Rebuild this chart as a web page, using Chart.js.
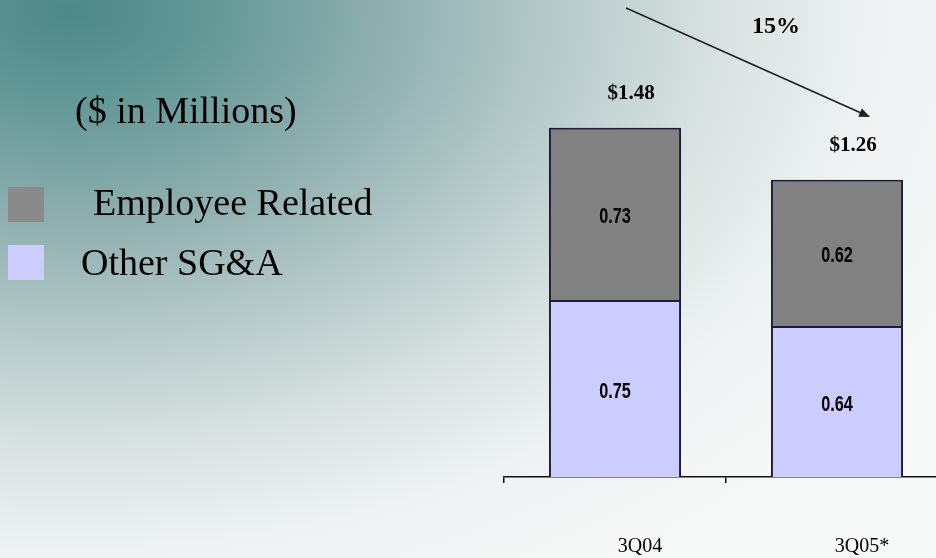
<!DOCTYPE html>
<html>
<head>
<meta charset="utf-8">
<script src="https://cdn.jsdelivr.net/npm/chart.js@4/dist/chart.umd.min.js"></script>
<style>
  html, body {
    margin: 0;
    padding: 0;
    width: 936px;
    height: 558px;
    overflow: hidden;
  }
  body {
    position: relative;
    background: radial-gradient(ellipse 980px 660px at 70px 10px,
      #4e8987 0%, #5e9594 12%, #8aacac 30%, #b3c7c7 48%, #d8e1e1 66%, #eef2f2 82%, #f7f8f8 100%);
    font-family: 'Liberation Serif', 'Times New Roman', serif;
  }
  #chart {
    position: absolute;
    left: 0;
    top: 0;
  }
  .txt {
    position: absolute;
    font-size: 38px;
    line-height: 1;
    color: #000;
    white-space: nowrap;
  }
  .swatch {
    position: absolute;
    width: 36px;
    height: 35px;
  }
</style>
</head>
<body>
<canvas id="chart" width="960" height="558"></canvas>
<div class="txt" style="left:75px; top:91px;">($ in Millions)</div>
<div id="legend"></div>
<script>
// SG&A by quarter, $ millions
const categories = ['3Q04', '3Q05*'];
const seriesNames = ['Other SG&A', 'Employee Related'];
const otherSGA = [0.75, 0.64];
const employeeRelated = [0.73, 0.62];
const changeLabel = '15%';

const BAR_COLORS = ['#ccccff', '#818181'];
const LEGEND_COLORS = ['#ccccff', '#8a8a8a'];

// legend on the left (Employee Related listed first)
const legendSpots = [
    { name: seriesNames[1], color: LEGEND_COLORS[1], swatchTop: 187, textTop: 183, textLeft: 93 },
    { name: seriesNames[0], color: LEGEND_COLORS[0], swatchTop: 245, textTop: 243, textLeft: 81 }
];
const legendEl = document.getElementById('legend');
legendSpots.forEach(item => {
    const sw = document.createElement('div');
    sw.className = 'swatch';
    sw.style.left = '8px';
    sw.style.top = item.swatchTop + 'px';
    sw.style.background = item.color;
    legendEl.appendChild(sw);

    const t = document.createElement('div');
    t.className = 'txt';
    t.style.left = item.textLeft + 'px';
    t.style.top = item.textTop + 'px';
    t.textContent = item.name;
    legendEl.appendChild(t);
});

const labelsPlugin = {
    id: 'barLabels',
    afterDatasetsDraw(chart) {
        const ctx = chart.ctx;
        const xs = chart.scales.x;
        const ys = chart.scales.y;
        ctx.save();
        ctx.fillStyle = '#000';
        ctx.textAlign = 'center';
        ctx.textBaseline = 'middle';

        // segment values, narrow bold
        ctx.font = "bold 22px 'Liberation Sans', Arial, sans-serif";
        chart.data.datasets.forEach((ds, di) => {
            const meta = chart.getDatasetMeta(di);
            meta.data.forEach((el, i) => {
                ctx.save();
                ctx.translate(el.x, (el.y + el.base) / 2 + 3);
                ctx.scale(0.74, 1);
                ctx.fillText(ds.data[i].toFixed(2), 0, 0);
                ctx.restore();
            });
        });

        // totals above the bars
        ctx.font = "bold 21px 'Liberation Serif', serif";
        const topMeta = chart.getDatasetMeta(chart.data.datasets.length - 1);
        topMeta.data.forEach((el, i) => {
            const total = otherSGA[i] + employeeRelated[i];
            ctx.fillText('$' + total.toFixed(2), el.x + 16, el.y - 34);
        });

        // arrow showing the decline
        const x1 = xs.getPixelForValue(0.05), y1 = ys.getPixelForValue(1.987);
        const x2 = xs.getPixelForValue(1.149), y2 = ys.getPixelForValue(1.525);
        const ang = Math.atan2(y2 - y1, x2 - x1);
        ctx.strokeStyle = '#1e1e1e';
        ctx.lineWidth = 1.6;
        ctx.beginPath();
        ctx.moveTo(x1, y1);
        ctx.lineTo(x2 - 8 * Math.cos(ang), y2 - 8 * Math.sin(ang));
        ctx.stroke();
        ctx.fillStyle = '#1e1e1e';
        ctx.beginPath();
        ctx.moveTo(x2, y2);
        ctx.lineTo(x2 - 11 * Math.cos(ang) + 4.5 * Math.sin(ang), y2 - 11 * Math.sin(ang) - 4.5 * Math.cos(ang));
        ctx.lineTo(x2 - 11 * Math.cos(ang) - 4.5 * Math.sin(ang), y2 - 11 * Math.sin(ang) + 4.5 * Math.cos(ang));
        ctx.closePath();
        ctx.fill();

        ctx.fillStyle = '#000';
        ctx.font = "bold 24px 'Liberation Serif', serif";
        ctx.fillText(changeLabel, xs.getPixelForValue(0.725), ys.getPixelForValue(1.907));
        ctx.restore();
    }
};

new Chart(document.getElementById('chart'), {
    type: 'bar',
    data: {
        labels: categories,
        datasets: [
            {
                label: seriesNames[0],
                data: otherSGA,
                backgroundColor: BAR_COLORS[0],
                borderColor: '#1c1c36',
                borderWidth: 2
            },
            {
                label: seriesNames[1],
                data: employeeRelated,
                backgroundColor: BAR_COLORS[1],
                borderColor: '#1c1c36',
                borderWidth: 2
            }
        ]
    },
    options: {
        responsive: false,
        animation: false,
        datasets: {
            bar: {
                categoryPercentage: 1,
                barPercentage: 0.595
            }
        },
        layout: {
            padding: { left: 504, right: 12, top: 5, bottom: 0 }
        },
        plugins: {
            legend: { display: false },
            tooltip: { enabled: false }
        },
        scales: {
            x: {
                stacked: true,
                afterFit: function(scale) {
                    scale.height = 81;
                },
                grid: {
                    drawOnChartArea: false,
                    drawTicks: true,
                    tickLength: 6,
                    color: '#111',
                    lineWidth: 1.5
                },
                border: {
                    display: true,
                    color: '#111',
                    width: 1.5
                },
                ticks: {
                    color: '#000',
                    padding: 52,
                    labelOffset: 25,
                    font: { family: "'Liberation Serif', serif", size: 20 }
                }
            },
            y: {
                stacked: true,
                display: false,
                min: 0,
                max: 2
            }
        }
    },
    plugins: [labelsPlugin]
});
</script>
</body>
</html>
